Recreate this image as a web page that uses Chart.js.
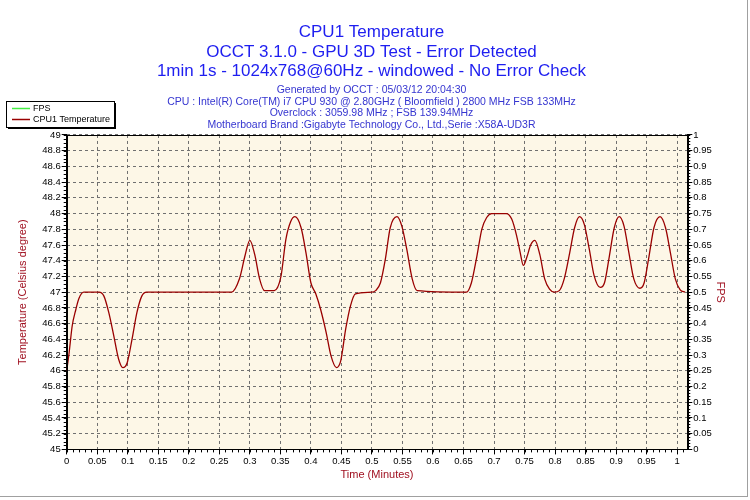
<!DOCTYPE html>
<html>
<head>
<meta charset="utf-8">
<script src="https://cdn.jsdelivr.net/npm/chart.js@4.4.0/dist/chart.umd.min.js"></script>
<style>
  body { margin: 0; background: #fff; }
  #wrap { position: relative; width: 750px; height: 500px; }
  #frame { position: absolute; left: 0; top: 0; width: 747px; height: 496px;
           border-right: 1px solid #a0a0a0; border-bottom: 1px solid #a0a0a0; pointer-events: none; }
</style>
</head>
<body>
<div id="wrap">
  <canvas id="tempChart" width="750" height="500"></canvas>
  <div id="frame"></div>
</div>
<script>
const titleLines = [
  'CPU1 Temperature',
  'OCCT 3.1.0 - GPU 3D Test - Error Detected',
  '1min 1s - 1024x768@60Hz - windowed - No Error Check'
];
const infoLines = [
  'Generated by OCCT : 05/03/12 20:04:30',
  'CPU : Intel(R) Core(TM) i7 CPU 930 @ 2.80GHz ( Bloomfield ) 2800 MHz FSB 133MHz',
  'Overclock : 3059.98 MHz ; FSB 139.94MHz',
  'Motherboard Brand :Gigabyte Technology Co., Ltd.,Serie :X58A-UD3R'
];

// time in minutes, temperature in celsius
const timeMin = [
  0, 0.004, 0.009, 0.015, 0.020, 0.028, 0.053, 0.061, 0.069, 0.077, 0.085, 0.092, 0.099,
  0.107, 0.115, 0.123, 0.131, 0.270, 0.283, 0.292, 0.300, 0.308, 0.316, 0.324, 0.340,
  0.351, 0.359, 0.367, 0.374, 0.384, 0.392, 0.400, 0.408, 0.416, 0.425, 0.433, 0.442,
  0.449, 0.457, 0.465, 0.473, 0.500, 0.506, 0.514, 0.522, 0.530, 0.541, 0.549, 0.557,
  0.566, 0.574, 0.655, 0.663, 0.672, 0.680, 0.688, 0.696, 0.720, 0.729, 0.737, 0.743,
  0.748, 0.754, 0.760, 0.767, 0.775, 0.783, 0.791, 0.799, 0.807, 0.815, 0.824, 0.832,
  0.840, 0.848, 0.856, 0.864, 0.874, 0.881, 0.889, 0.897, 0.905, 0.913, 0.921, 0.929,
  0.939, 0.946, 0.954, 0.962, 0.972, 0.981, 0.989, 0.997, 1.005, 1.013
];
const cpuTemp = [
  46.00, 46.23, 46.57, 46.78, 46.92, 47.00, 47.00, 46.95, 46.74, 46.45, 46.15, 46.04, 46.10,
  46.40, 46.74, 46.95, 47.00, 47.00, 47.17, 47.46, 47.66, 47.48, 47.17, 47.02, 47.02,
  47.20, 47.67, 47.90, 47.96, 47.82, 47.50, 47.12, 46.98, 46.78, 46.49, 46.19, 46.04,
  46.13, 46.53, 46.83, 46.98, 47.00, 47.02, 47.12, 47.42, 47.82, 47.96, 47.84, 47.55,
  47.17, 47.02, 47.00, 47.12, 47.46, 47.80, 47.95, 48.00, 48.00, 47.93, 47.72, 47.50,
  47.34, 47.45, 47.60, 47.66, 47.48, 47.17, 47.04, 47.00, 47.02, 47.17, 47.50, 47.82,
  47.96, 47.86, 47.55, 47.21, 47.06, 47.12, 47.46, 47.82, 47.96, 47.84, 47.50, 47.17,
  47.05, 47.12, 47.46, 47.82, 47.96, 47.82, 47.50, 47.17, 47.03, 47.00
];
const fpsValues = [];

const timeTicks = [0, 0.05, 0.1, 0.15, 0.2, 0.25, 0.3, 0.35, 0.4, 0.45, 0.5, 0.55, 0.6, 0.65,
                   0.7, 0.75, 0.8, 0.85, 0.9, 0.95, 1];
const tempTicks = [45, 45.2, 45.4, 45.6, 45.8, 46, 46.2, 46.4, 46.6, 46.8, 47, 47.2, 47.4,
                   47.6, 47.8, 48, 48.2, 48.4, 48.6, 48.8, 49];
const fpsTicks = [0, 0.05, 0.1, 0.15, 0.2, 0.25, 0.3, 0.35, 0.4, 0.45, 0.5, 0.55, 0.6, 0.65,
                  0.7, 0.75, 0.8, 0.85, 0.9, 0.95, 1];

const FONT = 'Liberation Sans, Arial, sans-serif';
const AXIS_RED = '#a01020';
const tickFont = { family: FONT, size: 9.5 };
const setTicks = list => scale => { scale.ticks = list.map(v => ({ value: v })); };

// background, frame, minor ticks and the boxed legend
const occtFrame = {
  id: 'occtFrame',
  beforeDraw(chart) {
    const { ctx, chartArea: a } = chart;
    ctx.save();
    ctx.fillStyle = '#fff';
    ctx.fillRect(0, 0, chart.width, chart.height);
    ctx.fillStyle = '#fdf7e7';
    ctx.fillRect(a.left, a.top, a.right - a.left, a.bottom - a.top);
    ctx.restore();
  },
  afterDraw(chart) {
    const { ctx, chartArea: a, scales } = chart;
    ctx.save();
    ctx.strokeStyle = '#000';
    ctx.lineWidth = 1;
    ctx.strokeRect(Math.round(a.left) + 0.5, Math.round(a.top) + 0.5,
                   Math.round(a.right - a.left), Math.round(a.bottom - a.top));

    const minor = (scale, step, draw) => {
      const n = Math.floor((scale.max - scale.min) / step + 1e-6);
      for (let i = 0; i <= n; i++) draw(scale.getPixelForValue(scale.min + i * step));
    };
    ctx.beginPath();
    minor(scales.x, 0.01, p => { ctx.moveTo(Math.round(p) + 0.5, a.bottom); ctx.lineTo(Math.round(p) + 0.5, a.bottom + 3); });
    minor(scales.yTemp, 0.05, p => { ctx.moveTo(a.left - 3, Math.round(p) + 0.5); ctx.lineTo(a.left, Math.round(p) + 0.5); });
    minor(scales.yFps, 0.01, p => { ctx.moveTo(a.right, Math.round(p) + 0.5); ctx.lineTo(a.right + 3, Math.round(p) + 0.5); });
    ctx.stroke();

    // legend box top-left
    const bx = 6, by = 101, bw = 108, bh = 26;
    ctx.fillStyle = '#000';
    ctx.fillRect(bx + 2, by + 2, bw, bh);
    ctx.fillStyle = '#fff';
    ctx.fillRect(bx, by, bw, bh);
    ctx.strokeRect(bx + 0.5, by + 0.5, bw, bh);
    ctx.font = '9px ' + FONT;
    ctx.textBaseline = 'middle';
    chart.data.datasets.forEach((ds, i) => {
      const y = by + 7.5 + i * 11;
      ctx.strokeStyle = ds.borderColor;
      ctx.lineWidth = 1.5;
      ctx.beginPath();
      ctx.moveTo(bx + 6, y); ctx.lineTo(bx + 24, y);
      ctx.stroke();
      ctx.fillStyle = '#000';
      ctx.fillText(ds.label, bx + 27, y);
    });
    ctx.restore();
  }
};

new Chart(document.getElementById('tempChart'), {
  type: 'line',
  data: {
    datasets: [
      {
        label: 'FPS',
        data: fpsValues,
        borderColor: '#44ee44',
        borderWidth: 1,
        pointRadius: 0,
        yAxisID: 'yFps'
      },
      {
        label: 'CPU1 Temperature',
        data: timeMin.map((t, i) => ({ x: t, y: cpuTemp[i] })),
        borderColor: '#990000',
        borderWidth: 1.3,
        pointRadius: 0,
        cubicInterpolationMode: 'monotone',
        yAxisID: 'yTemp'
      }
    ]
  },
  options: {
    responsive: false,
    animation: false,
    layout: { padding: { left: 12, right: 19, top: 0, bottom: 15 } },
    plugins: {
      legend: { display: false },
      tooltip: { enabled: false },
      title: {
        display: true,
        text: titleLines,
        color: '#1e1ef0',
        font: { family: FONT, size: 17, weight: 'normal', lineHeight: 1.15 },
        padding: { top: 22.5, bottom: 0 }
      },
      subtitle: {
        display: true,
        text: infoLines,
        color: '#3535d0',
        font: { family: FONT, size: 10.5, lineHeight: 1.11 },
        padding: { top: 3, bottom: 4.2 }
      }
    },
    scales: {
      x: {
        type: 'linear',
        min: 0,
        max: 61 / 60,
        afterBuildTicks: setTicks(timeTicks),
        ticks: { callback: v => String(+v.toFixed(2)), color: '#000', font: tickFont,
                 maxRotation: 0, autoSkip: false, padding: 1 },
        grid: { color: '#707070', tickColor: '#000', tickLength: 5 },
        border: { color: '#000', dash: [3, 3] },
        title: { display: true, text: 'Time (Minutes)', color: AXIS_RED,
                 font: { family: FONT, size: 11 }, padding: { top: 1, bottom: 3 } }
      },
      yTemp: {
        position: 'left',
        min: 45,
        max: 49,
        afterBuildTicks: setTicks(tempTicks),
        ticks: { callback: v => String(+v.toFixed(1)), color: '#000', font: tickFont, padding: 1 },
        grid: { color: '#707070', tickColor: '#000', tickLength: 5 },
        border: { color: '#000', dash: [3, 3] },
        title: { display: true, text: 'Temperature (Celsius degree)', color: AXIS_RED,
                 font: { family: FONT, size: 11 }, padding: { top: 4, bottom: 12 } }
      },
      yFps: {
        position: 'right',
        min: 0,
        max: 1,
        afterBuildTicks: setTicks(fpsTicks),
        ticks: { callback: v => String(+v.toFixed(2)), color: '#000', font: tickFont, padding: 1 },
        grid: { drawOnChartArea: false, tickColor: '#000', tickLength: 5 },
        border: { color: '#000' },
        title: { display: true, text: 'FPS', color: AXIS_RED,
                 font: { family: FONT, size: 11 }, padding: { top: 4, bottom: 1 } }
      }
    }
  },
  plugins: [occtFrame]
});
</script>
</body>
</html>
